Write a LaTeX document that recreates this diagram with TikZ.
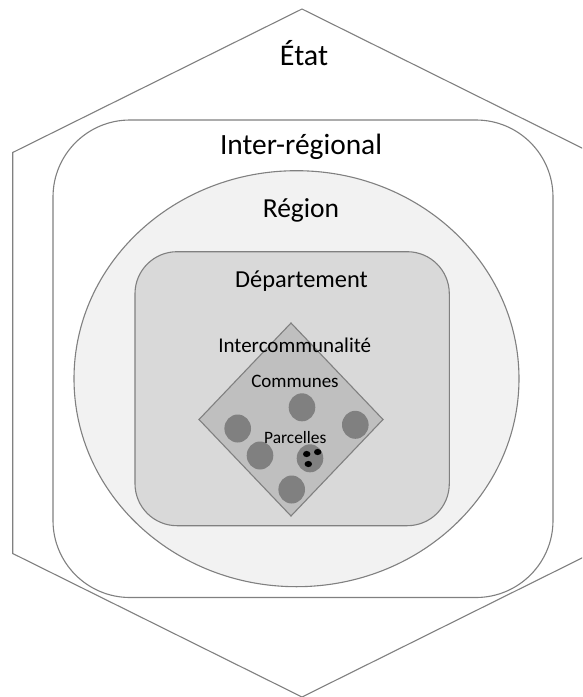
\documentclass[tikz,border=0pt]{standalone}
\usepackage{fontspec}
\setmainfont{Carlito}
\definecolor{linegray}{HTML}{808080}
\definecolor{regfill}{HTML}{F2F2F2}
\definecolor{depfill}{HTML}{D9D9D9}
\definecolor{interfill}{HTML}{BFBFBF}
\definecolor{commfill}{HTML}{808080}
\begin{document}
\begin{tikzpicture}[x=1pt,y=-1pt,
  outline/.style={draw=linegray,line width=1.1pt},
  commune/.style={fill=commfill},
  parcel/.style={fill=black},
  lbl/.style={anchor=base,inner sep=0pt,text=black}]
\useasboundingbox (0,0) rectangle (582,697);
\clip (0,0) rectangle (582,697);
% Etat hexagon
\draw[outline,fill=white] (302,9) -- (591,152.5) -- (591,553.5) -- (302,697) -- (12.7,553.5) -- (12.7,152.5) -- cycle;
% Inter-regional
\draw[outline,fill=white,rounded corners=77pt] (53,120) rectangle (553,597.5);
% Region
\draw[outline,fill=regfill] (296.5,378.7) ellipse [x radius=222.5pt, y radius=208pt];
% Departement
\draw[outline,fill=depfill,rounded corners=42pt] (135,251.7) rectangle (449.3,525.7);
% Intercommunalite
\draw[outline,fill=interfill] (291,323) -- (383,419.5) -- (291,516) -- (199,419.5) -- cycle;
% Communes
\fill[commune] (302,407.3) ellipse [x radius=13.3pt, y radius=14pt];
\fill[commune] (237.7,428.5) ellipse [x radius=13.3pt, y radius=14pt];
\fill[commune] (355.3,424.8) ellipse [x radius=13.3pt, y radius=14pt];
\fill[commune] (260,455.5) ellipse [x radius=13.3pt, y radius=14pt];
\fill[commune] (310,458.3) ellipse [x radius=13.3pt, y radius=14pt];
\fill[commune] (291.7,489.5) ellipse [x radius=13.3pt, y radius=14pt];
% Parcelles
\fill[parcel] (306.7,454) ellipse [x radius=3.7pt, y radius=3.1pt];
\fill[parcel] (317.7,452) ellipse [x radius=3.7pt, y radius=3.1pt];
\fill[parcel] (308.3,464) ellipse [x radius=3.7pt, y radius=3.1pt];
% Labels
\node[lbl,font=\fontsize{30}{36}\selectfont] (etat) at (304,65) {État};
\node[lbl,font=\fontsize{29.4}{35}\selectfont] (interreg) at (301,154) {Inter-régional};
\node[lbl,font=\fontsize{27.5}{33}\selectfont] (region) at (301,217) {Région};
\node[lbl,font=\fontsize{24.4}{29}\selectfont] (dept) at (301.5,287) {Département};
\node[lbl,font=\fontsize{21}{25}\selectfont] (interco) at (294.7,352) {Intercommunalité};
\node[lbl,font=\fontsize{19}{23}\selectfont] (communes) at (295,387) {Communes};
\node[lbl,font=\fontsize{17.4}{21}\selectfont] (parcelles) at (295.3,443) {Parcelles};
\end{tikzpicture}
\end{document}
